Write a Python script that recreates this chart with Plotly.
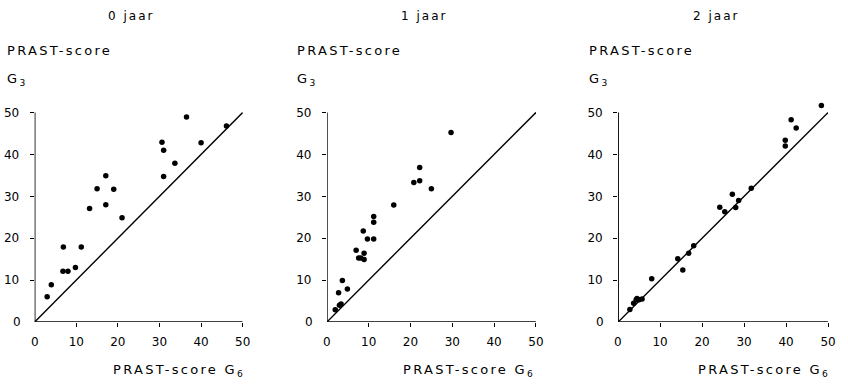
import plotly.graph_objects as go

W, H = 848, 386

# PRAST-score G6 (x) against PRAST-score G3 (y), one panel per follow-up year
titles = ["0 jaar", "1 jaar", "2 jaar"]

g6_0 = [3.0, 4.0, 6.9, 6.8, 8.0, 9.8, 11.2, 13.2, 15.0, 17.1, 17.1, 19.0, 21.0,
        30.6, 31.0, 31.0, 33.7, 36.5, 40.0, 46.1]
g3_0 = [6.0, 8.9, 17.9, 12.1, 12.1, 13.0, 17.9, 27.1, 31.8, 34.9, 28.0, 31.7, 24.9,
        42.9, 41.0, 34.7, 37.9, 48.9, 42.8, 46.8]

g6_1 = [2.0, 2.8, 3.0, 3.4, 3.7, 4.9, 7.0, 7.6, 8.1, 8.7, 8.9, 8.9, 9.7, 11.2,
        11.2, 11.2, 16.0, 20.8, 22.2, 22.2, 25.0, 29.7]
g3_1 = [2.9, 7.0, 4.0, 4.3, 9.9, 7.9, 17.1, 15.3, 15.3, 21.7, 16.4, 14.9, 19.8, 19.8,
        25.2, 23.8, 27.9, 33.3, 33.7, 36.9, 31.8, 45.2]

g6_2 = [2.8, 3.7, 4.3, 4.5, 5.0, 5.7, 8.0, 14.2, 15.4, 16.8, 18.0, 24.2, 25.4, 27.2,
        28.0, 28.7, 31.7, 39.8, 39.8, 41.2, 42.4, 48.4]
g3_2 = [3.0, 4.5, 5.3, 5.6, 5.3, 5.5, 10.3, 15.1, 12.4, 16.4, 18.2, 27.4, 26.3, 30.5,
        27.3, 29.0, 31.9, 43.4, 42.0, 48.3, 46.3, 51.7]

series = [(g6_0, g3_0), (g6_1, g3_1), (g6_2, g3_2)]

tick_vals = [0, 10, 20, 30, 40, 50]
tick_text = ["0", "10", "20", "30", "40", "50"]
identity = [0, 50]

# panel geometry in pixels: left edge (x=0), right edge (x=50)
panels = [(35, 245), (330, 541), (624, 836)]
# left edges of the text blocks of each panel: title, y label, x label
title_left = [107, 403, 698]
ylab_left = [5, 298, 593]
xlab_left = [112, 405, 703]

y0_px, y50_px = 322, 112.5
ppu = (y0_px - y50_px) / 50.0
ymax = 52.5
ytop_px = y0_px - ymax * ppu

FONT = "DejaVu Sans"


def px_x(v):
    return v / W


def px_y(v):
    return 1 - v / H


fig = go.Figure()
for i, ((gx, gy), (l, r)) in enumerate(zip(series, panels)):
    n = "" if i == 0 else str(i + 1)
    xa, ya = "x" + n, "y" + n
    fig.add_trace(go.Scatter(
        x=gx, y=gy, mode="markers", xaxis=xa, yaxis=ya,
        marker=dict(color="black", size=5.5), cliponaxis=False, showlegend=False))
    fig.add_trace(go.Scatter(
        x=identity, y=identity, mode="lines", xaxis=xa, yaxis=ya,
        line=dict(color="black", width=1.4), cliponaxis=False, showlegend=False))
    # axis lines ending at 50
    fig.add_trace(go.Scatter(
        x=[0, 50], y=[0, 0], mode="lines", xaxis=xa, yaxis=ya,
        line=dict(color="black", width=1.6), cliponaxis=False, showlegend=False))
    fig.add_trace(go.Scatter(
        x=[0, 0], y=[0, 50], mode="lines", xaxis=xa, yaxis=ya,
        line=dict(color="black", width=1.6), cliponaxis=False, showlegend=False))

    fig.layout["xaxis" + n] = dict(
        domain=[px_x(l), px_x(r)], range=[0, 50], anchor=ya,
        showgrid=False, zeroline=False, showline=False,
        tickvals=tick_vals[1:], ticktext=tick_text[1:],
        ticks="outside", ticklen=4, tickwidth=1.3, tickcolor="black",
        ticklabelstandoff=5,
        tickfont=dict(family=FONT, size=12, color="black"))
    fig.layout["yaxis" + n] = dict(
        domain=[px_y(y0_px), px_y(ytop_px)], range=[0, ymax], anchor=xa,
        showgrid=False, zeroline=False, showline=False,
        tickvals=tick_vals[1:], ticktext=tick_text[1:],
        ticks="outside", ticklen=4, tickwidth=1.3, tickcolor="black",
        ticklabelstandoff=8,
        tickfont=dict(family=FONT, size=12, color="black"))

    # zero labels on both axes
    fig.add_annotation(xref="paper", yref="paper", x=px_x(l - 12), y=px_y(y0_px),
                       text="0", showarrow=False, xanchor="right", yanchor="middle",
                       font=dict(family=FONT, size=12, color="black"))
    fig.add_annotation(xref="paper", yref="paper", x=px_x(l), y=px_y(342),
                       text="0", showarrow=False, xanchor="center", yanchor="middle",
                       font=dict(family=FONT, size=12, color="black"))

    fig.add_annotation(xref="paper", yref="paper", x=px_x(title_left[i]), y=px_y(16),
                       text=titles[i], showarrow=False, align="left",
                       xanchor="left", yanchor="middle",
                       font=dict(family=FONT, size=12, color="black"))
    fig.add_annotation(xref="paper", yref="paper", x=px_x(ylab_left[i]), y=px_y(50),
                       text="PRAST-score", showarrow=False, align="left",
                       xanchor="left", yanchor="middle",
                       font=dict(family=FONT, size=13, color="black"))
    fig.add_annotation(xref="paper", yref="paper", x=px_x(ylab_left[i]), y=px_y(80),
                       text="G<sub>3</sub>", showarrow=False, align="left",
                       xanchor="left", yanchor="middle",
                       font=dict(family=FONT, size=13, color="black"))
    fig.add_annotation(xref="paper", yref="paper", x=px_x(xlab_left[i]), y=px_y(370),
                       text="PRAST-score G<sub>6</sub>", showarrow=False, align="left",
                       xanchor="left", yanchor="middle",
                       font=dict(family=FONT, size=13, color="black"))

fig.update_layout(
    width=W, height=H, margin=dict(l=0, r=0, t=0, b=0),
    paper_bgcolor="white", plot_bgcolor="white",
    font=dict(family=FONT, color="black"))

# widen the letter spacing of the multi-character labels (typewriter look)
spacing_js = """
var gd = document.getElementById('{plot_id}');
gd.querySelectorAll('.annotation-text').forEach(function (t) {
    var s = t.textContent || '';
    if (s.length < 2) { return; }
    t.style.letterSpacing = (s.indexOf('jaar') >= 0) ? '2px' : '2.3px';
});
"""

fig.write_html("out.html", post_script=spacing_js)
